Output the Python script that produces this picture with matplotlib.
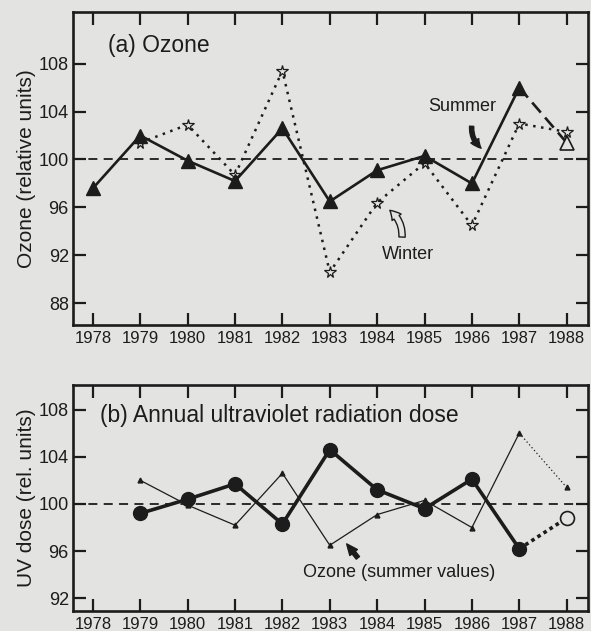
import matplotlib.pyplot as plt
import numpy as np

plt.rcParams['font.family'] = ['Liberation Sans', 'DejaVu Sans']

years = np.arange(1978, 1989)
summer = [97.6, 102.0, 99.9, 98.2, 102.6, 96.5, 99.1, 100.3, 98.0, 106.0, 101.4]
winter_years = np.arange(1979, 1989)
winter = [101.4, 102.9, 98.7, 107.4, 90.6, 96.4, 99.7, 94.5, 103.0, 102.3]
uv_years = np.arange(1979, 1989)
uv = [99.2, 100.4, 101.7, 98.3, 104.6, 101.2, 99.6, 102.1, 96.2, 98.8]

ink = '#1c1c1c'
paper = '#e3e3e1'

fig = plt.figure(figsize=(5.91, 6.31), dpi=100, facecolor=paper)
ax1 = fig.add_axes([0.1235, 0.485, 0.8714, 0.496])
ax2 = fig.add_axes([0.1235, 0.0317, 0.8714, 0.3582])


def style(ax, yticks):
    ax.set_facecolor(paper)
    ax.set_xlim(1977.58, 1988.45)
    ax.set_xticks(years)
    ax.set_yticks(yticks)
    ax.tick_params(axis='both', direction='in', length=9, width=1.6,
                   top=True, right=True, colors=ink)
    ax.tick_params(axis='x', labelsize=12, pad=4)
    ax.tick_params(axis='y', labelsize=13, pad=3)
    for s in ax.spines.values():
        s.set_linewidth(1.9)
        s.set_color(ink)
    ax.axhline(100, color=ink, lw=1.3, ls=(0, (5, 3.5)), zorder=1)


# (a) Ozone
style(ax1, [88, 92, 96, 100, 104, 108])
ax1.set_ylim(86.2, 112.3)
ax1.plot(years[:10], summer[:10], color=ink, lw=1.9, marker='^',
         ms=10.5, mfc=ink, mec=ink, zorder=3)
ax1.plot(years[9:], summer[9:], color=ink, lw=1.9, ls=(0, (5, 2.5)), zorder=3)
ax1.plot(years[10], summer[10], marker='^', ms=10.5, mfc=paper, mec=ink,
         mew=1.2, ls='none', zorder=4)
ax1.plot(winter_years, winter, color=ink, lw=1.8, ls=(0, (1, 2.2)),
         marker='*', ms=8.5, mfc=paper, mec=ink, mew=0.9, zorder=2)
ax1.set_ylabel('Ozone (relative units)', fontsize=15, color=ink, labelpad=2)
ax1.text(1978.32, 109.5, '(a) Ozone', fontsize=16.5, color=ink, va='center')
ax1.text(1985.07, 104.4, 'Summer', fontsize=13, color=ink, va='center')
ax1.annotate('', xy=(1986.24, 100.8), xytext=(1986.0, 103.0),
             arrowprops=dict(arrowstyle='simple,head_width=0.65,head_length=0.7,tail_width=0.3',
                             connectionstyle='arc3,rad=0.3', fc=ink, ec=ink))
ax1.text(1984.1, 92.1, 'Winter', fontsize=13, color=ink, va='center')
ax1.annotate('', xy=(1984.22, 95.9), xytext=(1984.52, 93.3),
             arrowprops=dict(arrowstyle='simple,head_width=0.8,head_length=0.7,tail_width=0.45',
                             connectionstyle='arc3,rad=0.3', fc=paper, ec=ink, lw=1.0))

# (b) UV dose
style(ax2, [92, 96, 100, 104, 108])
ax2.set_ylim(90.93, 110.08)
ax2.plot(uv_years[:9], uv[:9], color=ink, lw=2.6, marker='o', ms=10,
         mfc=ink, mec=ink, zorder=3)
ax2.plot(uv_years[8:], uv[8:], color=ink, lw=2.6, ls=(0, (1, 1)), zorder=3)
ax2.plot(uv_years[9], uv[9], marker='o', ms=10, mfc=paper, mec=ink,
         mew=1.2, ls='none', zorder=4)
ax2.plot(years[1:10], summer[1:10], color=ink, lw=0.9, marker='^', ms=3.5,
         zorder=2)
ax2.plot(years[9:], summer[9:], color=ink, lw=0.9, ls=(0, (1, 2)),
         zorder=2)
ax2.plot(years[10], summer[10], marker='^', ms=3.5, color=ink, ls='none')
ax2.set_ylabel('UV dose (rel. units)', fontsize=15, color=ink, labelpad=2)
ax2.text(1978.15, 107.5, '(b) Annual ultraviolet radiation dose',
         fontsize=16.5, color=ink, va='center')
ax2.text(1982.43, 94.2, 'Ozone (summer values)', fontsize=13, color=ink,
         va='center')
ax2.annotate('', xy=(1983.32, 96.8), xytext=(1983.63, 95.25),
             arrowprops=dict(arrowstyle='simple,head_width=0.7,head_length=0.8,tail_width=0.3',
                             fc=ink, ec=ink))

fig.savefig('out.png', dpi=100, facecolor=paper)
